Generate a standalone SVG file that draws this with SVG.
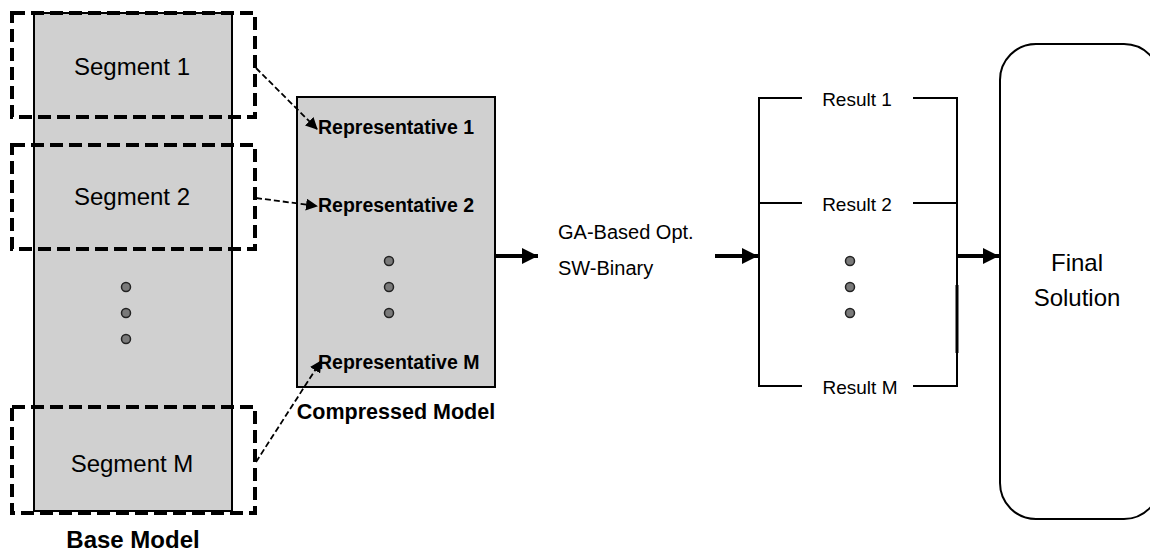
<svg xmlns="http://www.w3.org/2000/svg" width="1150" height="552" viewBox="0 0 1150 552">
<style>
.box{fill:#d0d0d0;stroke:#000;stroke-width:2}
.seg{fill:none;stroke:#000;stroke-width:4;stroke-dasharray:13 6}
.t{font-family:"Liberation Sans",Arial,sans-serif;fill:#000}
.b{font-weight:bold}
.dot{fill:#7a7a7a;stroke:#222;stroke-width:1.5}
.dash{fill:none;stroke:#000;stroke-width:1.8;stroke-dasharray:6 3}
.thick{fill:none;stroke:#000;stroke-width:4}
.ln{fill:none;stroke:#000;stroke-width:2}
</style>
<defs>
<marker id="ah" markerWidth="12" markerHeight="12" refX="11" refY="6" orient="auto" markerUnits="userSpaceOnUse">
<path d="M0,0 L12,6 L0,12 z" fill="#000"/>
</marker>
<marker id="ah2" markerWidth="16" markerHeight="16" refX="16" refY="8" orient="auto" markerUnits="userSpaceOnUse">
<path d="M0,0 L16,8 L0,16 z" fill="#000"/>
</marker>
</defs>
<g id="base-model">
<rect class="box" x="34" y="13" width="198" height="498"/>
<circle class="dot" cx="126" cy="287" r="4.5"/>
<circle class="dot" cx="126" cy="313" r="4.5"/>
<circle class="dot" cx="126" cy="339" r="4.5"/>
<text class="t b" x="133" y="548" font-size="24" text-anchor="middle">Base Model</text>
</g>
<g id="segment-1">
<rect class="seg" x="12" y="13" width="243" height="104"/>
<text class="t" x="132" y="75" font-size="24" text-anchor="middle">Segment 1</text>
</g>
<g id="segment-2">
<rect class="seg" x="12" y="145" width="243" height="104"/>
<text class="t" x="132" y="205" font-size="24" text-anchor="middle">Segment 2</text>
</g>
<g id="segment-m">
<rect class="seg" x="12" y="407" width="243" height="106"/>
<text class="t" x="132" y="472" font-size="24" text-anchor="middle">Segment M</text>
</g>
<g id="compressed-model">
<rect class="box" x="297" y="97" width="198" height="290"/>
<text class="t b" x="318" y="134" font-size="19.5">Representative 1</text>
<text class="t b" x="318" y="212" font-size="19.5">Representative 2</text>
<text class="t b" x="318" y="369" font-size="19.5">Representative M</text>
<circle class="dot" cx="389" cy="261" r="4.5"/>
<circle class="dot" cx="389" cy="287" r="4.5"/>
<circle class="dot" cx="389" cy="313" r="4.5"/>
<text class="t b" x="396" y="419" font-size="21.5" text-anchor="middle">Compressed Model</text>
</g>
<g id="ga-opt">
<text class="t" x="558" y="239" font-size="20">GA-Based Opt.</text>
<text class="t" x="558" y="275" font-size="20">SW-Binary</text>
</g>
<g id="results">
<polyline class="ln" points="802,98 759,98 759,386 802,386"/>
<line class="ln" x1="759" y1="203" x2="802" y2="203"/>
<polyline class="ln" points="913,98 957,98 957,386 913,386"/>
<line class="ln" x1="913" y1="203" x2="957" y2="203"/>
<line x1="957" y1="285" x2="957" y2="353" stroke="#000" stroke-width="3"/>
<text class="t" x="857" y="106" font-size="19" text-anchor="middle">Result 1</text>
<text class="t" x="857" y="211" font-size="19" text-anchor="middle">Result 2</text>
<text class="t" x="860" y="394" font-size="19" text-anchor="middle">Result M</text>
<circle class="dot" cx="850" cy="261" r="4.5"/>
<circle class="dot" cx="850" cy="287" r="4.5"/>
<circle class="dot" cx="850" cy="313" r="4.5"/>
</g>
<g id="final-solution">
<rect x="1000" y="44" width="160" height="475" rx="36" ry="36" fill="#fff" stroke="#000" stroke-width="2"/>
<text class="t" x="1077" y="271" font-size="24" text-anchor="middle">Final</text>
<text class="t" x="1077" y="306" font-size="24" text-anchor="middle">Solution</text>
</g>
<g id="connectors">
<line class="dash" x1="256" y1="68" x2="317" y2="129" marker-end="url(#ah)"/>
<line class="dash" x1="256" y1="198" x2="317" y2="206" marker-end="url(#ah)"/>
<line class="dash" x1="256" y1="462" x2="321" y2="361" marker-end="url(#ah)"/>
<line class="thick" x1="495" y1="256" x2="538" y2="256" marker-end="url(#ah2)"/>
<line class="thick" x1="715" y1="256" x2="758" y2="256" marker-end="url(#ah2)"/>
<line class="thick" x1="957" y1="256" x2="999" y2="256" marker-end="url(#ah2)"/>
</g>
</svg>
